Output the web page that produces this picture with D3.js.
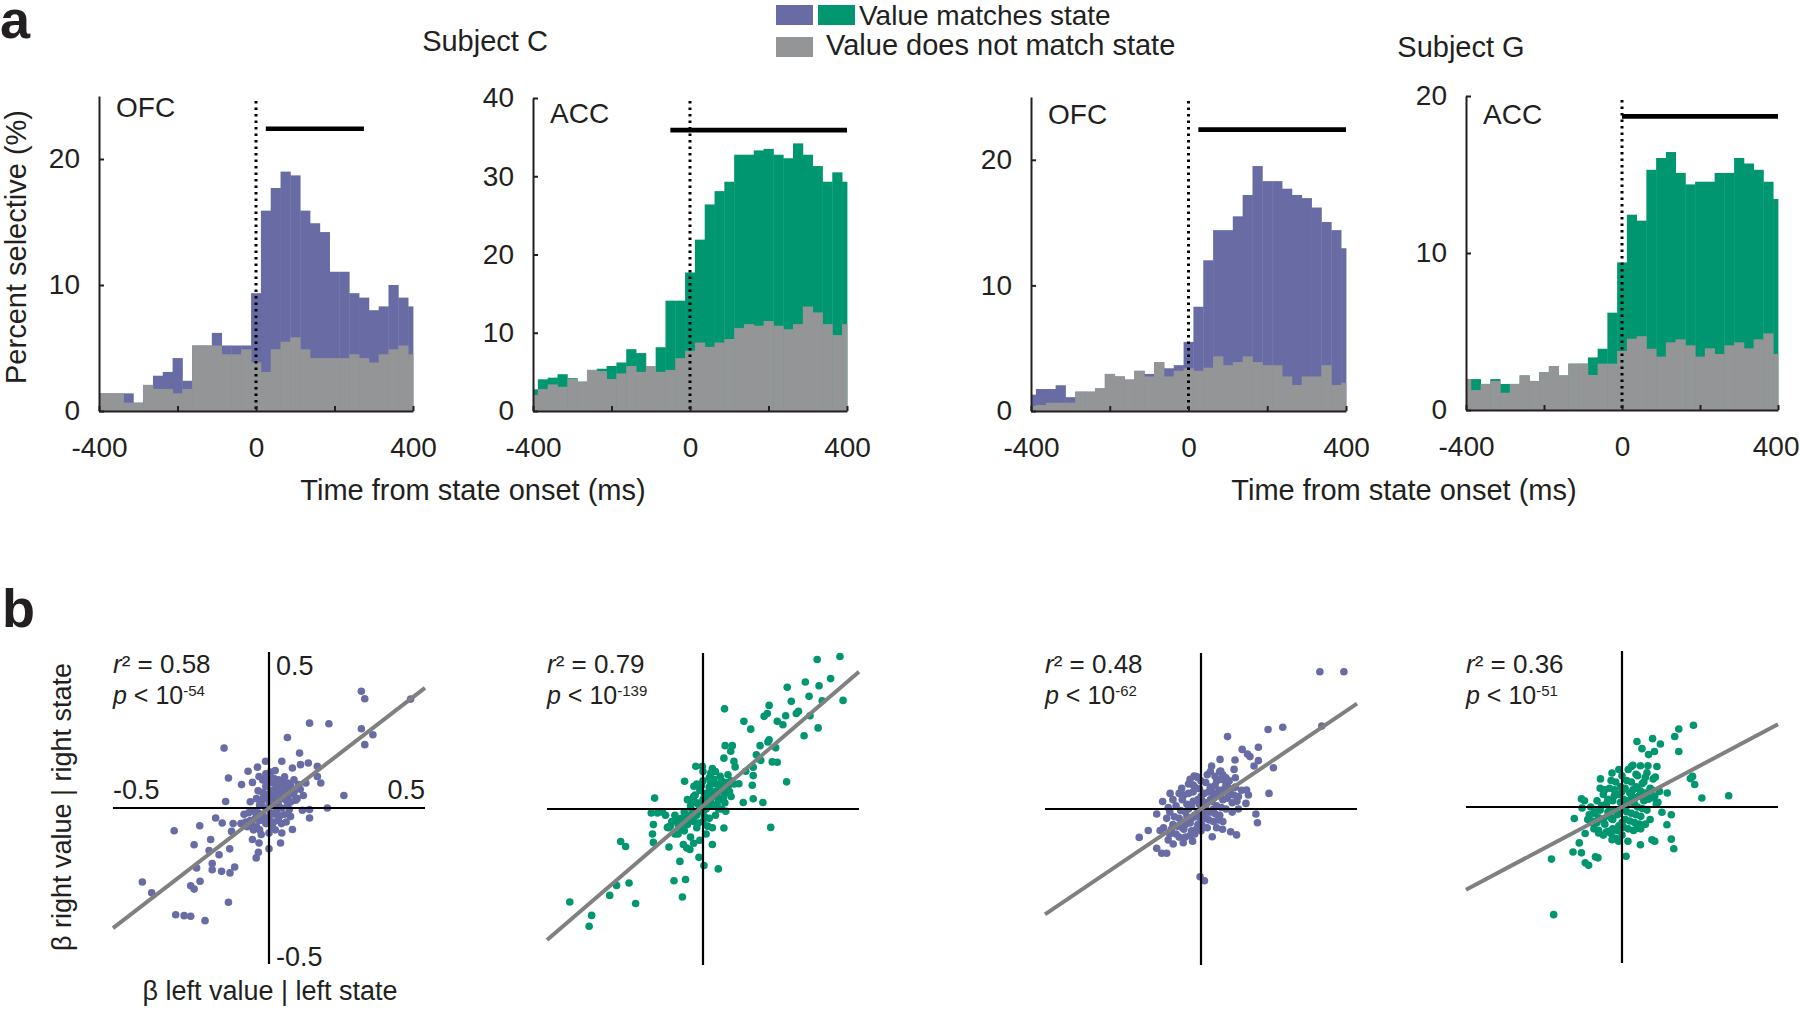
<!DOCTYPE html>
<html><head><meta charset="utf-8">
<script src="https://cdn.jsdelivr.net/npm/d3@7"></script>
<style>
body{margin:0;background:#fff;}
svg{display:block;}
text{font-family:"Liberation Sans",Arial,sans-serif;fill:#231F20;}
</style>
</head><body>
<svg id="c" width="1800" height="1013"></svg>
<script>
// ---------------- DATA ----------------
const binCenters = [-400,-375,-350,-325,-300,-275,-250,-225,-200,-175,-150,-125,-100,-75,-50,-25,0,25,50,75,100,125,150,175,200,225,250,275,300,325,350,375,400];

// Subject C, OFC
const ofcC_match = [1.4,1.4,1.4,1.4,0.66,2.07,2.8,3.1,4.2,2.4,5.2,5.2,6.2,5.2,5.2,5.2,9.35,15.9,17.7,19.0,18.7,15.9,14.9,14.2,11.05,11.05,9.35,9.0,8.0,8.3,10.0,9.0,8.3];
const ofcC_non   = [1.4,1.4,1.4,0.66,0.66,2.07,1.75,1.75,1.4,1.75,5.2,5.2,5.2,4.5,4.5,4.9,3.85,3.1,4.9,5.5,5.85,4.9,4.2,4.2,4.2,4.2,4.5,4.2,3.85,4.5,4.9,5.2,4.5];
// Subject C, ACC
const accC_match = [2.77,4.05,4.26,4.7,4.2,3.75,5.25,5.4,5.75,6.2,7.9,7.4,5.75,8.15,14.1,14.1,17.7,21.9,26.4,28.1,29.3,32.75,32.75,33.3,33.5,32.75,32.3,34.2,32.75,31.3,29.3,30.5,29.3];
const accC_non   = [2.05,2.8,3.4,3.1,4.1,3.75,5.25,5.1,4.1,4.8,5.75,5.0,5.75,5.0,5.25,6.75,7.7,8.75,8.2,8.75,9.2,10.6,11.1,10.9,11.5,10.9,10.45,11.1,13.35,12.6,11.1,9.7,11.1];
// Subject G, OFC
const ofcG_match = [1.3,1.75,1.75,2.05,1.1,1.54,1.54,1.8,2.95,2.75,2.5,3.2,2.95,3.9,3.4,3.65,5.5,8.3,12.0,14.4,14.4,15.5,17.2,19.5,18.3,18.3,17.7,17.2,16.95,16.2,15.05,14.4,12.96];
const ofcG_non   = [0.4,0.48,0.66,0.66,0.66,1.54,1.54,1.8,2.95,2.75,2.5,3.2,2.75,3.9,2.75,3.2,3.4,3.2,3.45,4.35,3.65,3.9,4.35,3.9,3.65,3.65,2.75,2.07,2.75,2.75,3.65,2.07,2.25];
// Subject G, ACC
const accG_match = [1.97,1.97,1.66,1.97,1.66,1.66,2.2,1.85,2.4,2.8,2.2,2.95,2.95,3.35,3.9,6.2,9.4,12.44,12.06,15.3,16.05,16.43,15.1,14.37,14.54,14.54,15.1,15.1,16.05,15.7,15.3,14.54,13.44];
const accG_non   = [1.97,1.27,1.66,1.85,1.1,1.66,2.2,1.85,2.4,2.8,2.2,2.95,2.95,2.23,2.95,2.95,3.76,4.54,4.7,3.9,3.4,4.31,4.5,4.12,3.4,3.93,3.57,4.12,4.31,3.93,4.5,4.88,3.57];

// significance bars [start ms, end ms, level %]
const sigC_ofc = [25, 275, 22.4];
const sigC_acc = [-50, 400, 35.9];
const sigG_ofc = [25, 400, 22.4];
const sigG_acc = [0, 400, 18.7];

const yMaxes = [25, 40, 25, 20];
const yTickValues = [[0,10,20],[0,10,20,30,40],[0,10,20],[0,10,20]];
const xTickValues = [-400,-200,0,200,400];
const xTickLabels = ["-400","","0","","400"];
const regionLabels = ["OFC","ACC","OFC","ACC"];
const subjects = ["Subject C","Subject G"];
const legendLabels = ["Value matches state","Value does not match state"];

// scatter points [beta left, beta right]
const scatOFC_C = [
[0.296,0.374],[0.307,0.350],[0.454,0.349],[0.130,0.272],[0.192,0.270],[0.296,0.254],[0.333,0.235],[0.307,0.203],[0.059,0.226],[-0.144,0.192],
[0.098,0.176],[0.126,0.144],[0.041,0.150],[0.075,0.128],[0.101,0.139],[0.155,0.134],[-0.011,0.150],[-0.037,0.131],[-0.067,0.118],[-0.130,0.096],
[-0.088,0.075],[-0.053,0.082],[-0.032,0.101],[0.155,0.101],[0.166,0.080],[0.118,0.080],[0.240,0.040],[0.187,0.0],[0.130,-0.005],[0.130,-0.032],
[0.107,-0.007],[-0.139,0.021],[-0.171,-0.032],[-0.150,-0.048],[-0.222,-0.057],[-0.304,-0.073],[-0.115,-0.050],[-0.120,-0.075],[-0.240,-0.118],[-0.187,-0.101],
[-0.192,-0.136],[-0.126,-0.131],[-0.160,-0.150],[-0.182,-0.178],[-0.182,-0.198],[-0.152,-0.203],[-0.125,-0.208],[-0.110,-0.189],[-0.232,-0.192],[-0.251,-0.249],
[-0.240,-0.260],[-0.221,-0.235],[-0.130,-0.302],[-0.406,-0.237],[-0.376,-0.272],[-0.299,-0.342],[-0.272,-0.345],[-0.251,-0.347],[-0.205,-0.361],[-0.053,-0.101],
[-0.032,-0.112],[-0.041,-0.160],[-0.034,-0.142],[0.0,-0.131],[0.037,-0.112],[0.075,-0.069],[0.069,-0.027],[0.041,-0.080],
[0.00,0.02],[0.01,0.04],[0.02,0.06],[-0.01,0.07],[0.00,0.09],[0.01,0.08],[0.03,0.05],[0.04,0.03],[0.05,0.06],[0.06,0.04],
[0.07,0.07],[0.08,0.05],[0.03,0.09],[0.05,0.10],[-0.02,0.03],[-0.03,0.01],[-0.04,0.03],[-0.05,-0.01],[-0.06,0.02],[-0.02,-0.02],
[-0.03,-0.04],[-0.04,-0.06],[-0.06,-0.04],[-0.07,-0.06],[-0.08,-0.02],[-0.01,-0.05],[0.00,-0.03],[0.01,-0.06],[0.02,-0.02],[0.03,-0.04],
[0.04,0.00],[0.05,-0.02],[0.06,0.01],[0.07,0.02],[0.09,0.03],[0.10,0.06],[0.08,0.09],[-0.01,0.00],[0.01,0.01],[0.02,0.03],
[-0.02,0.05],[-0.04,-0.02],[0.00,-0.08],[-0.03,-0.07],[0.02,-0.07],[0.04,-0.05],[-0.05,-0.07],[-0.09,-0.05],[0.11,0.04],[0.06,0.08],
[-0.01,0.11],[0.02,0.12],[0.04,0.07],[-0.02,0.09],[0.03,0.01],
[0.015,0.025],[0.035,0.035],[-0.015,0.045],[0.025,0.075],[0.045,0.055],[-0.035,-0.015],[-0.025,0.015],[0.005,-0.015],[0.015,-0.045],[-0.045,-0.035],
[0.055,0.025],[0.065,0.055],[-0.055,-0.055],[0.005,0.055],[-0.005,0.035],[0.035,-0.025],[0.075,0.045],[-0.065,-0.015],[0.025,-0.005],[-0.015,-0.035],
[0.045,0.085],[0.015,0.095],[-0.035,0.055],[0.085,0.025],[0.055,-0.045],[-0.075,-0.045],[0.005,0.115],[0.095,0.075],[-0.025,-0.085],[0.065,-0.005]
];
const scatACC_C = [
[0.439,0.489],[0.366,0.479],[0.409,0.418],[0.449,0.348],[0.328,0.407],[0.270,0.390],[0.340,0.361],[0.372,0.395],[0.382,0.347],[0.283,0.345],
[0.212,0.332],[0.306,0.313],[0.299,0.306],[0.265,0.299],[0.238,0.281],[0.256,0.270],[0.196,0.297],[0.206,0.306],[0.131,0.281],[0.153,0.256],
[0.343,0.299],[0.369,0.260],[0.324,0.235],[0.069,0.321],[0.212,0.222],[0.208,0.215],[0.183,0.203],[0.233,0.196],[0.171,0.174],[0.185,0.156],
[0.222,0.151],[0.238,0.150],[0.161,0.134],[0.137,0.121],[0.094,0.203],[0.071,0.203],[0.089,0.185],[0.067,0.163],[0.099,0.153],[0.103,0.135],
[0.161,0.107],[0.158,0.076],[0.115,0.081],[0.268,0.087],[0.192,0.021],[0.161,0.033],[0.129,0.021],[0.217,-0.059],[0.073,-0.007],[0.067,-0.061],
[0.030,-0.114],[0.049,-0.192],[-0.013,-0.155],[0.003,-0.181],[-0.063,-0.114],[-0.052,-0.125],[-0.042,-0.130],[-0.109,-0.122],[-0.159,-0.107],[-0.162,-0.080],
[-0.159,-0.050],[-0.114,-0.059],[-0.074,-0.168],[-0.093,-0.230],[-0.056,-0.226],[-0.066,-0.282],[-0.237,-0.237],[-0.277,-0.245],[-0.299,-0.277],[-0.216,-0.303],
[-0.264,-0.104],[-0.248,-0.120],[-0.357,-0.341],[-0.365,-0.376],[-0.427,-0.298],[-0.155,0.035],[-0.166,-0.013],[-0.146,-0.013],[-0.059,0.089],[-0.029,0.073],
[-0.023,0.137],[-0.002,0.137],[0.025,0.115],
[0.00,0.03],[0.01,0.05],[0.02,0.07],[0.03,0.04],[-0.01,0.06],[0.00,0.09],[0.02,0.10],[0.04,0.08],[0.05,0.06],[0.06,0.09],
[0.07,0.05],[0.08,0.07],[0.09,0.04],[0.05,0.03],[0.03,0.01],[0.01,0.00],[-0.02,0.02],[-0.03,0.04],[-0.04,0.01],[-0.05,0.03],
[-0.06,-0.01],[-0.02,-0.02],[-0.03,-0.04],[-0.05,-0.05],[-0.07,-0.03],[-0.08,-0.05],[-0.09,-0.02],[-0.10,-0.04],[-0.11,-0.06],[-0.08,-0.08],
[-0.06,-0.07],[-0.04,-0.09],[-0.02,-0.06],[0.00,-0.04],[0.01,-0.08],[0.02,-0.03],[0.04,-0.02],[0.06,0.00],[0.07,0.02],[-0.01,-0.10],
[0.03,-0.06],[-0.12,-0.02],[-0.13,-0.01],[0.10,0.08],[0.08,0.11],[0.04,0.12],[-0.02,0.08],[0.01,0.02],[-0.01,0.01],[0.00,-0.01],
[0.05,0.00],[-0.04,-0.02],[0.02,0.05],[0.06,0.06],[-0.07,-0.06],[0.09,0.09],[-0.09,-0.08],[0.03,0.13],[0.00,0.12],[-0.03,-0.11],
[0.015,0.035],[0.035,0.055],[0.055,0.075],[-0.015,0.015],[-0.035,-0.005],[-0.055,-0.025],[-0.075,-0.045],[0.025,0.025],[0.045,0.045],[0.065,0.035],
[-0.025,0.045],[-0.045,-0.035],[0.005,-0.025],[0.015,-0.055],[-0.065,-0.055],[0.075,0.085],[0.035,0.095],[-0.005,0.075],[0.085,0.055],[-0.085,-0.035],
[0.045,0.015],[-0.015,-0.045],[0.025,0.085],[-0.105,-0.055],[0.055,0.105],[0.005,0.045],[-0.035,0.025],[0.065,0.065]
];
const scatOFC_G = [
[0.381,0.440],[0.458,0.440],[0.387,0.266],[0.262,0.262],[0.215,0.255],[0.085,0.232],[0.184,0.198],[0.132,0.191],[0.157,0.168],[0.149,0.176],
[0.184,0.155],[0.170,0.138],[0.232,0.132],[0.061,0.159],[0.034,0.138],[0.109,0.157],[0.106,0.127],[0.063,0.122],[0.218,0.050],[0.146,0.061],
[0.152,0.045],[0.144,0.018],[0.176,-0.016],[0.181,-0.044],[0.114,-0.083],[0.095,-0.073],[0.036,-0.089],[0.069,-0.065],[-0.003,-0.217],[0.011,-0.230],
[-0.025,0.077],[-0.014,0.104],[-0.022,0.106],[-0.062,0.066],[-0.099,0.050],[-0.123,0.024],[-0.142,-0.016],[-0.169,-0.069],[-0.198,-0.091],[-0.131,-0.069],
[-0.142,-0.126],[-0.126,-0.142],[-0.110,-0.142],[-0.105,-0.099],[-0.089,-0.112],[-0.057,-0.108],[-0.027,-0.103],
[0.00,0.00],[0.02,0.02],[0.04,0.04],[0.06,0.06],[0.08,0.08],[-0.02,-0.02],[-0.04,-0.04],[-0.06,-0.06],[-0.08,-0.08],
[0.03,-0.01],[0.05,0.01],[0.07,0.03],[0.09,0.05],[0.11,0.07],[0.01,-0.03],[-0.01,-0.05],[-0.03,-0.07],[-0.05,-0.09],
[-0.03,0.01],[-0.01,0.03],[0.01,0.05],[0.03,0.07],[0.05,0.09],[0.07,0.11],[-0.05,-0.01],[-0.07,-0.03],[-0.09,-0.05],
[0.06,-0.02],[0.08,0.00],[0.10,0.02],[0.04,-0.04],[0.02,-0.06],[0.00,-0.07],[-0.02,-0.08],
[-0.06,0.03],[-0.04,0.05],[-0.02,0.07],[0.00,0.09],[0.02,0.11],[-0.08,0.01],[-0.10,-0.01],[-0.11,-0.03],
[0.01,0.01],[-0.01,-0.01],[0.03,0.03],[-0.03,-0.03],[0.05,0.05],[-0.05,-0.05],[0.00,0.04],[0.00,-0.04],[0.04,0.00],[-0.04,0.00],
[0.09,0.09],[0.12,0.04],[0.10,-0.01],[0.07,-0.04],[0.05,-0.06],[-0.07,0.05],[-0.09,0.03],[-0.12,-0.06],[-0.10,-0.08],[-0.07,-0.09],
[0.06,0.12],[0.03,0.12],[-0.01,0.10],[0.08,0.10],[0.11,0.10],[-0.04,0.08],[0.12,0.00],[0.13,0.06],
[0.015,0.005],[0.035,0.025],[0.055,0.045],[0.075,0.065],[-0.015,-0.025],[-0.035,-0.045],[-0.055,-0.065],[-0.075,-0.055],[0.025,0.055],[0.045,0.075],
[0.065,0.095],[-0.025,0.025],[-0.045,0.015],[-0.065,-0.005],[-0.085,-0.025],[0.025,-0.035],[0.045,-0.015],[0.065,0.005],[0.085,0.035],[0.095,0.065],
[0.005,-0.055],[-0.015,-0.065],[-0.035,-0.085],[0.015,0.085],[-0.005,0.065],[-0.025,0.055],[0.005,0.025],[-0.005,0.015],[0.035,0.055],[-0.045,-0.025],
[0.105,0.045],[-0.095,-0.065],[0.055,-0.035],[-0.055,0.045],[0.015,-0.015],[0.085,0.085],[-0.105,0.005],[0.045,0.105],[-0.035,0.095],[0.115,0.025]
];
const scatACC_G = [
[0.229,0.262],[0.182,0.250],[0.169,0.226],[0.048,0.210],[0.098,0.219],[0.123,0.202],[0.064,0.187],[0.104,0.178],[0.085,0.168],[0.182,0.178],
[0.083,0.132],[0.059,0.132],[0.035,0.134],[0.112,0.130],[0.226,0.098],[0.233,0.072],[0.219,0.091],[0.256,0.029],[0.342,0.036],[0.145,0.045],
[0.107,0.096],[-0.069,0.090],[-0.032,0.109],[-0.130,0.026],[-0.128,-0.003],[-0.153,-0.037],[-0.094,-0.051],[-0.118,-0.085],[-0.137,-0.115],[-0.157,-0.144],
[-0.130,-0.147],[-0.118,-0.179],[-0.107,-0.187],[-0.085,-0.160],[-0.077,-0.163],[-0.226,-0.167],[-0.219,-0.345],[-0.032,-0.105],[-0.011,-0.110],[0.019,-0.110],
[0.013,-0.158],[0.059,-0.121],[0.096,-0.105],[0.105,-0.110],[0.158,-0.103],[0.166,-0.134],[0.144,-0.057],[0.158,-0.025],[0.128,-0.017],[0.037,-0.075],
[0.048,-0.069],[-0.043,-0.078],[-0.075,-0.083],
[0.00,0.00],[0.02,0.02],[0.04,0.03],[0.06,0.05],[0.08,0.04],[-0.02,-0.01],[-0.04,-0.03],[-0.06,-0.04],[-0.08,-0.05],
[0.03,-0.02],[0.05,0.00],[0.07,0.02],[0.09,0.06],[0.10,0.03],[0.01,-0.04],[-0.01,-0.06],[-0.03,-0.07],[-0.05,-0.08],
[-0.03,0.02],[-0.01,0.04],[0.01,0.06],[0.03,0.08],[0.05,0.10],[0.02,0.12],[-0.05,0.01],[-0.07,-0.01],[-0.09,-0.02],
[0.06,-0.03],[0.08,-0.01],[0.11,0.01],[0.04,-0.05],[0.02,-0.07],[0.00,-0.09],[-0.02,-0.10],
[-0.06,0.04],[-0.04,0.06],[-0.02,0.08],[0.00,0.10],[-0.08,0.02],[-0.10,0.00],[-0.11,-0.04],
[0.01,0.01],[-0.01,-0.02],[0.03,0.04],[-0.03,-0.04],[0.05,0.06],[0.00,0.05],[0.00,-0.05],[0.04,0.01],[-0.04,-0.01],
[0.07,0.08],[0.12,0.05],[0.09,-0.04],[0.06,-0.07],[-0.07,0.06],[-0.09,-0.07],[-0.06,-0.09],[0.03,0.13],[-0.01,0.12],[0.08,0.11],[-0.12,0.02],[0.10,0.09],
[0.015,0.005],[0.035,0.015],[0.055,0.035],[0.075,0.045],[-0.015,-0.025],[-0.035,-0.035],[-0.055,-0.055],[-0.075,-0.035],[0.025,0.045],[0.045,0.065],
[0.065,0.075],[-0.025,0.035],[-0.045,0.025],[-0.065,0.005],[-0.085,-0.015],[0.025,-0.045],[0.045,-0.025],[0.065,-0.005],[0.085,0.025],[0.095,0.055],
[0.005,-0.065],[-0.015,-0.075],[-0.035,-0.085],[0.015,0.085],[-0.005,0.065],[-0.025,0.055],[0.005,0.025],[-0.005,0.015],[0.035,0.055],[-0.045,-0.015],
[0.105,0.035],[-0.095,-0.045],[0.055,-0.055],[-0.055,0.055],[0.015,-0.015],[0.075,0.095],[-0.105,-0.025],[0.045,0.105],[-0.035,0.085],[0.115,0.015],
[0.075,-0.055],[-0.075,-0.075]
];

// regression fits [slope, intercept], r^2, p exponent
const fitSlopes = [0.77, 0.86, 0.675, 0.53];
const fitIntercepts = [0.0, 0.01, 0.0, 0.0];
const r2Labels = ["0.58","0.79","0.48","0.36"];
const pExponents = ["-54","-139","-62","-51"];
const scatterTickLabels = ["-0.5","0.5"];

// ---------------- STYLE / LAYOUT ----------------
const C_BLUE = "#696BA5", C_GREEN = "#009670", C_GRAY = "#949597", C_INK = "#231F20", C_FIT = "#808080";
const svg = d3.select("#c");

const histLayout = [
  {x0: 99,   x1: 413,  yTop: 96, yBot: 411, labY: 117},
  {x0: 533,  x1: 847,  yTop: 98, yBot: 411, labY: 123},
  {x0: 1031, x1: 1346, yTop: 97, yBot: 411, labY: 124},
  {x0: 1466, x1: 1778, yTop: 96, yBot: 410, labY: 124}
];
const histSeries = [
  {match: ofcC_match, non: ofcC_non, color: C_BLUE, sig: sigC_ofc},
  {match: accC_match, non: accC_non, color: C_GREEN, sig: sigC_acc},
  {match: ofcG_match, non: ofcG_non, color: C_BLUE, sig: sigG_ofc},
  {match: accG_match, non: accG_non, color: C_GREEN, sig: sigG_acc}
];

histLayout.forEach((L, k) => {
  const S = histSeries[k];
  const x = d3.scaleLinear().domain([-400, 400]).range([L.x0, L.x1]);
  const y = d3.scaleLinear().domain([0, yMaxes[k]]).range([L.yBot, L.yTop]);
  const g = svg.append("g");
  const bl = c => x(Math.max(-400, c - 12.5));
  const br = c => x(Math.min(400, c + 12.5));
  g.append("g").selectAll("rect").data(binCenters).join("rect")
    .attr("x", c => bl(c)).attr("width", c => br(c) - bl(c) + 0.4)
    .attr("y", (c, i) => y(S.match[i])).attr("height", (c, i) => y(0) - y(S.match[i]))
    .attr("fill", S.color);
  g.append("g").selectAll("rect").data(binCenters).join("rect")
    .attr("x", c => bl(c)).attr("width", c => br(c) - bl(c) + 0.4)
    .attr("y", (c, i) => y(S.non[i])).attr("height", (c, i) => y(0) - y(S.non[i]))
    .attr("fill", C_GRAY);

  // dotted onset line
  g.append("line").attr("x1", x(0)).attr("x2", x(0)).attr("y1", y(0) - 2).attr("y2", y(yMaxes[k]) + 1)
    .attr("stroke", "#000").attr("stroke-width", 3).attr("stroke-dasharray", "2.5 4");
  // significance bar
  g.append("line").attr("x1", x(S.sig[0])).attr("x2", x(S.sig[1])).attr("y1", y(S.sig[2])).attr("y2", y(S.sig[2]))
    .attr("stroke", "#000").attr("stroke-width", 4.6);

  // axes
  const ax = g.append("g").attr("transform", `translate(${L.x0},0)`)
    .call(d3.axisLeft(y).tickValues(yTickValues[k]).tickSize(-5).tickSizeOuter(0).tickPadding(19).tickFormat(d => String(d)));
  const bx = g.append("g").attr("transform", `translate(0,${L.yBot})`)
    .call(d3.axisBottom(x).tickValues(xTickValues).tickSize(-5).tickSizeOuter(0).tickPadding(26).tickFormat((d, i) => xTickLabels[i]));
  [ax, bx].forEach(a => {
    a.attr("font-family", null).attr("font-size", null);
    a.selectAll("path,line").attr("stroke", C_INK).attr("stroke-width", 2);
    a.selectAll("text").attr("font-size", 28).attr("fill", C_INK);
  });
  // keep the right-most tick label inside the page
  bx.selectAll(".tick text").each(function (d) {
    const t = d3.select(this);
    if (x(d) + 24 > 1799) t.attr("text-anchor", "end").attr("x", 1799 - x(d));
  });

  g.append("text").attr("x", L.x0 + 17).attr("y", L.labY).attr("font-size", 28).text(regionLabels[k]);
});

// panel a titles / labels
svg.append("text").attr("x", 0).attr("y", 38).attr("font-size", 54).attr("font-weight", "bold").text("a");
svg.append("text").attr("x", 485).attr("y", 51).attr("font-size", 29).attr("text-anchor", "middle").text(subjects[0]);
svg.append("text").attr("x", 1461).attr("y", 57).attr("font-size", 29).attr("text-anchor", "middle").text(subjects[1]);
svg.append("text").attr("x", 473).attr("y", 500).attr("font-size", 29).attr("text-anchor", "middle").text("Time from state onset (ms)");
svg.append("text").attr("x", 1404).attr("y", 500).attr("font-size", 29).attr("text-anchor", "middle").text("Time from state onset (ms)");
svg.append("text").attr("transform", "translate(26,247) rotate(-90)").attr("font-size", 29).attr("text-anchor", "middle").text("Percent selective (%)");

// legend
svg.append("rect").attr("x", 776).attr("y", 5).attr("width", 37).attr("height", 20).attr("fill", C_BLUE);
svg.append("rect").attr("x", 818).attr("y", 5).attr("width", 37).attr("height", 20).attr("fill", C_GREEN);
svg.append("text").attr("x", 859).attr("y", 25).attr("font-size", 28).text(legendLabels[0]);
svg.append("rect").attr("x", 776).attr("y", 37).attr("width", 37).attr("height", 20).attr("fill", C_GRAY);
svg.append("text").attr("x", 826).attr("y", 55).attr("font-size", 29).text(legendLabels[1]);

// ---------------- PANEL b ----------------
svg.append("text").attr("x", 2).attr("y", 627).attr("font-size", 54).attr("font-weight", "bold").text("b");

const scatLayout = [
  {cx: 269, cy: 808},
  {cx: 703, cy: 809},
  {cx: 1201, cy: 809},
  {cx: 1622, cy: 807}
];
const scatData = [scatOFC_C, scatACC_C, scatOFC_G, scatACC_G];
const scatColors = [C_BLUE, C_GREEN, C_BLUE, C_GREEN];
const HALF = 156;

scatLayout.forEach((L, k) => {
  const sx = d3.scaleLinear().domain([-0.5, 0.5]).range([L.cx - HALF, L.cx + HALF]);
  const sy = d3.scaleLinear().domain([-0.5, 0.5]).range([L.cy + HALF, L.cy - HALF]);
  const g = svg.append("g");
  g.append("g").selectAll("circle").data(scatData[k]).join("circle")
    .attr("cx", d => sx(d[0])).attr("cy", d => sy(d[1])).attr("r", 3.8).attr("fill", scatColors[k]);
  g.append("line").attr("x1", sx(-0.5)).attr("x2", sx(0.5)).attr("y1", sy(0)).attr("y2", sy(0))
    .attr("stroke", "#000").attr("stroke-width", 2.2);
  g.append("line").attr("x1", sx(0)).attr("x2", sx(0)).attr("y1", sy(-0.5)).attr("y2", sy(0.5))
    .attr("stroke", "#000").attr("stroke-width", 2.2);
  const f = v => fitIntercepts[k] + fitSlopes[k] * v;
  g.append("line").attr("x1", sx(-0.5)).attr("x2", sx(0.5)).attr("y1", sy(f(-0.5))).attr("y2", sy(f(0.5)))
    .attr("stroke", C_FIT).attr("stroke-width", 4);

  const t1 = g.append("text").attr("x", sx(-0.5)).attr("y", 673).attr("font-size", 26);
  t1.append("tspan").attr("font-style", "italic").text("r");
  t1.append("tspan").text("² = " + r2Labels[k]);
  const t2 = g.append("text").attr("x", sx(-0.5)).attr("y", 704).attr("font-size", 25);
  t2.append("tspan").attr("font-style", "italic").text("p");
  t2.append("tspan").text(" < 10");
  t2.append("tspan").attr("font-size", 15).attr("dy", -8).text(pExponents[k]);

  if (k === 0) {
    g.append("text").attr("x", sx(0) + 7).attr("y", 675).attr("font-size", 27).text(scatterTickLabels[1]);
    g.append("text").attr("x", sx(0) + 7).attr("y", 966).attr("font-size", 27).text(scatterTickLabels[0]);
    g.append("text").attr("x", sx(-0.5)).attr("y", 799).attr("font-size", 27).text(scatterTickLabels[0]);
    g.append("text").attr("x", sx(0.5)).attr("y", 799).attr("font-size", 27).attr("text-anchor", "end").text(scatterTickLabels[1]);
  }
});

svg.append("text").attr("x", 270).attr("y", 1000).attr("font-size", 27).attr("text-anchor", "middle").text("β left value | left state");
svg.append("text").attr("transform", "translate(71,807) rotate(-90)").attr("font-size", 27).attr("text-anchor", "middle").text("β right value | right state");
</script>
</body></html>
